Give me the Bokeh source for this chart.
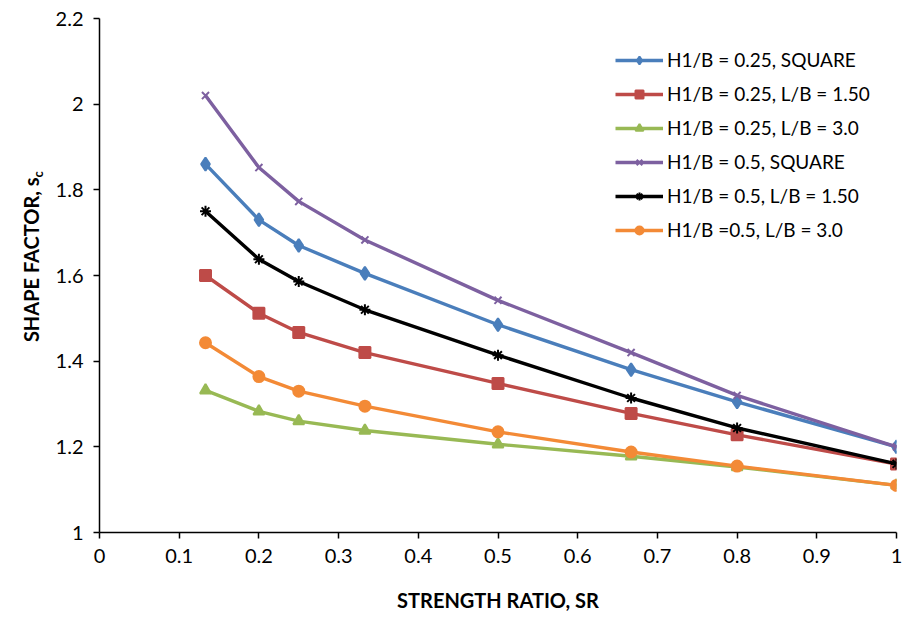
import math

from bokeh.plotting import figure
from bokeh.layouts import row
from bokeh.models import (Range1d, FixedTicker, CustomJSTickFormatter, Legend,
                          LegendItem)
from bokeh.core.properties import value
from bokeh.embed import file_html
from bokeh.resources import INLINE

# Strength ratio values shared by every series
sr = [0.133, 0.2, 0.25, 0.333, 0.5, 0.667, 0.8, 1.0]

# Shape factor s_c for each footing configuration
h025_square = [1.86, 1.73, 1.67, 1.605, 1.485, 1.38, 1.305, 1.20]
h025_lb150 = [1.60, 1.512, 1.467, 1.42, 1.348, 1.278, 1.228, 1.16]
h025_lb300 = [1.332, 1.283, 1.26, 1.238, 1.206, 1.178, 1.153, 1.11]
h050_square = [2.02, 1.852, 1.773, 1.683, 1.542, 1.42, 1.32, 1.20]
h050_lb150 = [1.75, 1.638, 1.586, 1.52, 1.414, 1.314, 1.244, 1.16]
h050_lb300 = [1.443, 1.364, 1.33, 1.295, 1.235, 1.188, 1.155, 1.11]

labels = [
    "H1/B = 0.25, SQUARE",
    "H1/B = 0.25, L/B = 1.50",
    "H1/B = 0.25, L/B = 3.0",
    "H1/B = 0.5, SQUARE",
    "H1/B = 0.5, L/B = 1.50",
    "H1/B =0.5, L/B = 3.0",
]
series = [h025_square, h025_lb150, h025_lb300, h050_square, h050_lb150, h050_lb300]
colors = ["#4A7EBB", "#BE4B48", "#98B954", "#7D60A0", "#000000", "#F38A36"]
markers = ["diamond", "square", "triangle", "x", "asterisk", "circle"]
msizes = [13, 11, 11, 10, 11, 11]

x_ticks = [0, 0.1, 0.2, 0.3, 0.4, 0.5, 0.6, 0.7, 0.8, 0.9, 1.0]
y_ticks = [1.0, 1.2, 1.4, 1.6, 1.8, 2.0, 2.2]

y_title = "SHAPE FACTOR, s"
y_title_sub = "c"

FONT = "Lato"
SIDE_W = 50
H = 621

# ---- main chart -------------------------------------------------------
p = figure(width=911 - SIDE_W, height=H, output_backend="svg",
           toolbar_location=None,
           x_range=Range1d(0, 1), y_range=Range1d(1, 2.2),
           min_border_left=99 - SIDE_W, min_border_right=15,
           min_border_top=18, min_border_bottom=89)
p.outline_line_color = None
p.xgrid.grid_line_color = None
p.ygrid.grid_line_color = None
p.background_fill_color = "white"
p.border_fill_color = "white"

fmt = CustomJSTickFormatter(code="return String(parseFloat(tick.toFixed(2)));")

for ax, ticks in ((p.xaxis[0], x_ticks), (p.yaxis[0], y_ticks)):
    ax.ticker = FixedTicker(ticks=ticks)
    ax.formatter = fmt
    ax.axis_line_color = "black"
    ax.axis_line_width = 1.5
    ax.major_tick_line_color = "black"
    ax.major_tick_line_width = 1.5
    ax.major_tick_out = 6
    ax.major_tick_in = 0
    ax.minor_tick_line_color = None
    ax.major_label_text_font = FONT
    ax.major_label_text_font_size = "20px"
    ax.major_label_text_color = "black"

p.xaxis[0].major_label_standoff = 10
p.xaxis[0].axis_label = "STRENGTH RATIO, SR"
p.xaxis[0].axis_label_text_font = FONT
p.xaxis[0].axis_label_text_font_style = "bold"
p.xaxis[0].axis_label_text_font_size = "20px"
p.xaxis[0].axis_label_text_color = "black"
p.xaxis[0].axis_label_standoff = 22
p.yaxis[0].major_label_standoff = 10

items = []
for ys, lab, col, mk, ms in zip(series, labels, colors, markers, msizes):
    ln = p.line(sr, ys, line_color=col, line_width=3.4)
    sc = p.scatter(sr, ys, marker=mk, size=ms, fill_color=col,
                   line_color=col, line_width=2)
    items.append(LegendItem(label=lab, renderers=[ln, sc]))

legend = Legend(items=items, location=(516, 291), orientation="vertical",
                border_line_color=None, background_fill_alpha=0,
                padding=0, margin=0, spacing=11,
                glyph_width=48, glyph_height=20, label_height=20,
                label_standoff=4,
                label_text_font=FONT, label_text_font_size="19px",
                label_text_color="black")
p.add_layout(legend)

# ---- narrow strip on the left holding the rotated y-axis title ----------
side = figure(width=SIDE_W, height=H, output_backend="svg",
              toolbar_location=None, x_axis_type=None, y_axis_type=None,
              x_range=Range1d(0, SIDE_W), y_range=Range1d(0, H),
              min_border=0)
side.outline_line_color = None
side.xgrid.grid_line_color = None
side.ygrid.grid_line_color = None

side.text(x=[30], y=[H - 192], text=[y_title], angle=math.pi / 2,
          text_align="right", text_baseline="alphabetic",
          text_font=value(FONT), text_font_style="bold",
          text_font_size="20px", text_color="black")
side.text(x=[37], y=[H - 192], text=[y_title_sub], angle=math.pi / 2,
          text_align="left", text_baseline="alphabetic",
          text_font=value(FONT), text_font_style="bold",
          text_font_size="13px", text_color="black")

layout = row(side, p)
open("out.html", "w").write(file_html(layout, INLINE))
